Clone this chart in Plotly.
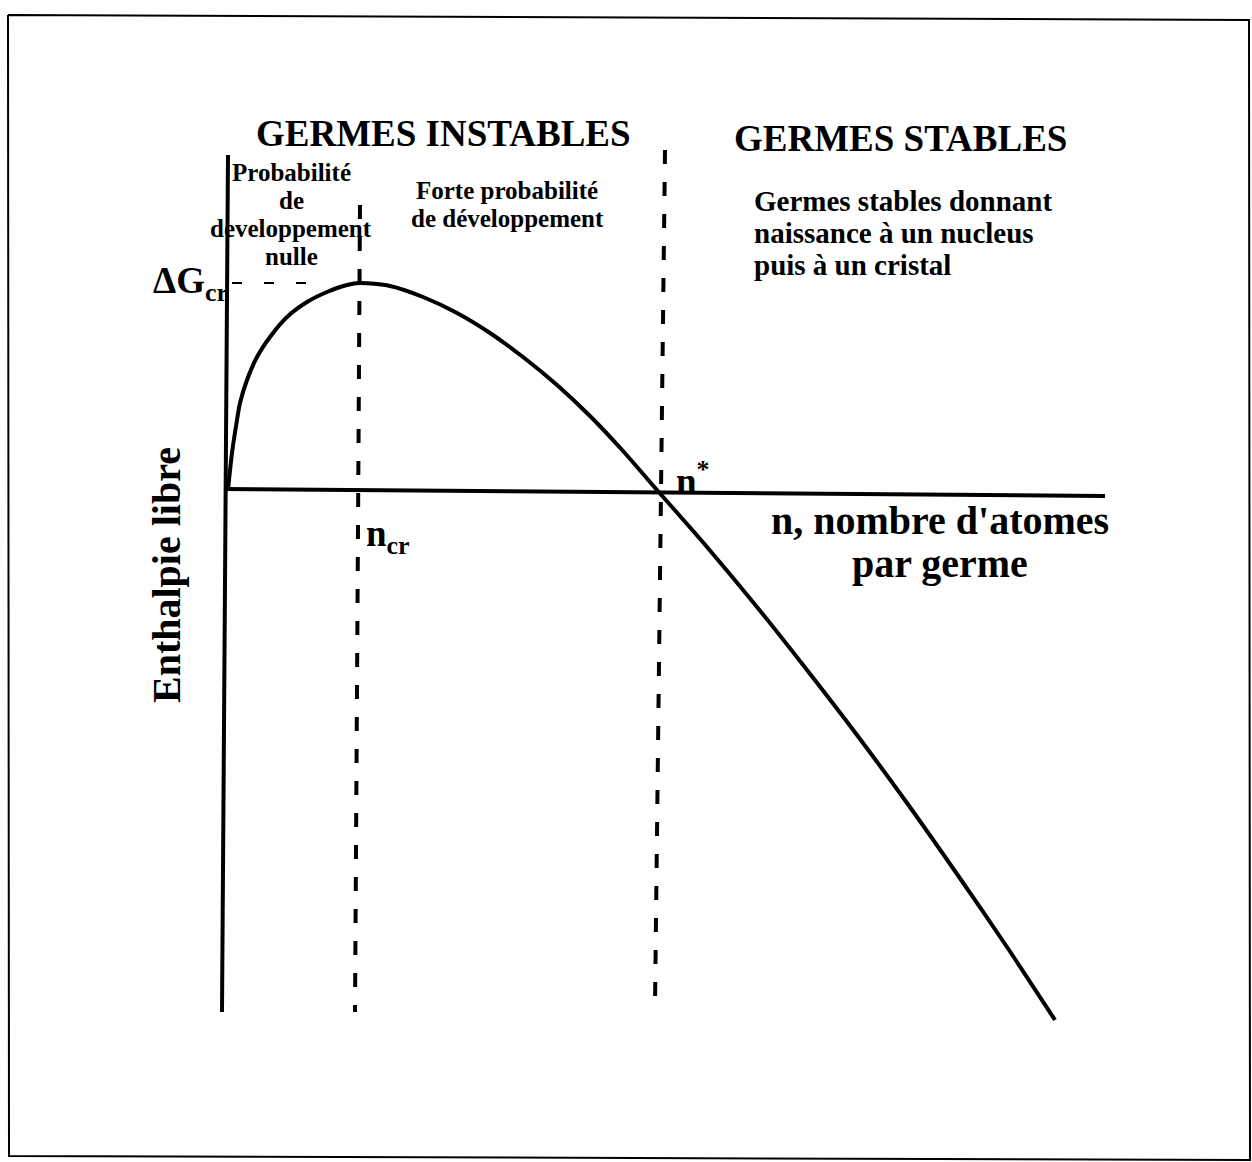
import plotly.graph_objects as go

# ---- Data (diagram units: n to the right, G upward; origin at axes crossing) ----
n_curve = [0, 4, 9, 12, 19, 29, 42, 59, 79, 99, 119, 132, 162, 195, 229, 262, 295,
           329, 362, 395, 429, 479, 529, 579, 629, 679, 729, 779, 827]
G_curve = [0, 37, 70, 87, 110, 133, 153, 173, 188, 198, 205, 207, 204, 193, 177, 157,
           133, 105, 74, 39, 0, -57, -117, -180, -245, -313, -384, -457, -530]

n_cr = 132          # position of the critical size
n_star = 429        # position where curve crosses zero
dG_cr = 207         # maximum of the curve

# axis extents
G_axis = [-522, 335]
n_axis = [-3, 877]

# page geometry (pixels) -> diagram units
W, H = 1252, 1162
OX, OY = 228, 490   # pixel position of diagram origin


def px(xp, yp):
    return xp - OX, OY - yp


fig = go.Figure()

black = "#000000"

# vertical axis (Enthalpie libre)
fig.add_trace(go.Scatter(x=[0, -6], y=G_axis[::-1], mode="lines",
                         line=dict(color=black, width=4), hoverinfo="skip"))
# horizontal axis (n)
fig.add_trace(go.Scatter(x=n_axis, y=[1, -6], mode="lines",
                         line=dict(color=black, width=4), hoverinfo="skip"))

# dashed vertical at n_cr
fig.add_trace(go.Scatter(x=[n_cr, n_cr - 5], y=[285, -522], mode="lines",
                         line=dict(color=black, width=4, dash="14px,18px"),
                         hoverinfo="skip"))
# dashed vertical at n*
fig.add_trace(go.Scatter(x=[n_star + 8, n_star - 2], y=[340, -515], mode="lines",
                         line=dict(color=black, width=4, dash="14px,18px"),
                         hoverinfo="skip"))

# dashed horizontal at dG_cr
fig.add_trace(go.Scatter(x=[4, 100], y=[dG_cr, dG_cr], mode="lines",
                         line=dict(color=black, width=2, dash="10px,22px"),
                         hoverinfo="skip"))

# free-enthalpy curve
fig.add_trace(go.Scatter(x=n_curve, y=G_curve, mode="lines",
                         line=dict(color=black, width=4, shape="spline", smoothing=0.8),
                         hoverinfo="skip"))

# border frame
bx = [8, 1249, 1250, 9, 8]
by = [15, 20, 1160, 1156, 15]
fx, fy = zip(*[px(a, b) for a, b in zip(bx, by)])
fig.add_trace(go.Scatter(x=list(fx), y=list(fy), mode="lines",
                         line=dict(color=black, width=2), hoverinfo="skip"))

serif = "Liberation Serif"


def label(text, xp, yp, size, xanchor="center", yanchor="middle", angle=0):
    x, y = px(xp, yp)
    fig.add_annotation(x=x, y=y, text=text, showarrow=False, xanchor=xanchor,
                       yanchor=yanchor, textangle=angle,
                       font=dict(family=serif, size=size, color=black, weight="bold"))


def block(lines, xp, y0p, dy, size, xanchor="center"):
    for i, t in enumerate(lines):
        label(t, xp, y0p + i * dy, size, xanchor=xanchor)


label("GERMES INSTABLES", 443, 133, 37)
label("GERMES STABLES", 900, 138, 37)
block(["Probabilité", "de", "developpement", "nulle"], 291, 172, 28, 25)
block(["Forte probabilité", "de développement"], 507, 190, 28, 25)
block(["Germes stables donnant", "naissance à un nucleus", "puis à un cristal"],
      752, 201, 32, 29, xanchor="left")
label("ΔG<sub>cr</sub>", 230, 283, 37, xanchor="right")
label("n<sub>cr</sub>", 364, 536, 37, xanchor="left")
label("n<sup>*</sup>", 674, 478, 37, xanchor="left")
block(["n, nombre d'atomes", "par germe"], 940, 520, 43, 40)
label("Enthalpie libre", 166, 575, 40, angle=-90)

x0, y0 = px(0, 0)
x1, y1 = px(W, H)
fig.update_xaxes(range=[x0, x1], visible=False, showgrid=False, zeroline=False)
fig.update_yaxes(range=[y1, y0], visible=False, showgrid=False, zeroline=False)
fig.update_layout(width=W, height=H, margin=dict(l=0, r=0, t=0, b=0),
                  plot_bgcolor="white", paper_bgcolor="white", showlegend=False)

fig.write_html("out.html", post_script="document.body.style.margin='0';",
               config={"displayModeBar": False})
